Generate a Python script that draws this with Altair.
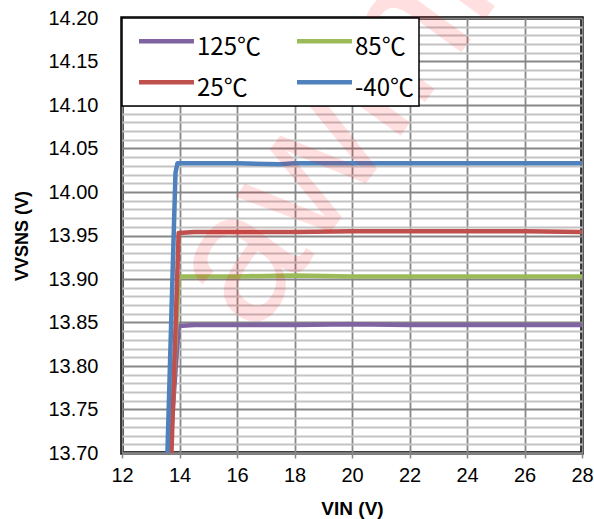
import altair as alt
import pandas as pd

temps = ["125℃", "85℃", "25℃", "-40℃"]
colors = ["#8064A2", "#9BBB59", "#C0504D", "#4F81BD"]
widths = [4.5, 4.5, 4.5, 6]

vin_125 = [13.66, 13.97, 14.5, 16, 18, 20, 22, 24, 26, 28]
vs_125 = [13.70, 13.846, 13.847, 13.847, 13.847, 13.848, 13.847, 13.847, 13.847, 13.847]

vin_85 = [13.68, 13.97, 14.5, 16, 18, 20, 22, 24, 26, 28]
vs_85 = [13.70, 13.903, 13.903, 13.903, 13.904, 13.903, 13.903, 13.903, 13.903, 13.903]

vin_25 = [13.72, 13.97, 14.5, 16, 18, 20, 22, 24, 26, 28]
vs_25 = [13.70, 13.953, 13.954, 13.954, 13.954, 13.955, 13.955, 13.955, 13.955, 13.954]

vin_m40 = [13.58, 13.86, 13.93, 14.5, 16, 17.5, 18, 20, 22, 24, 26, 28]
vs_m40 = [13.70, 14.022, 14.033, 14.033, 14.033, 14.032, 14.033, 14.033, 14.033, 14.033, 14.033, 14.033]

x_ticks = [12, 14, 16, 18, 20, 22, 24, 26, 28]
y_ticks = [round(13.70 + 0.01 * i, 2) for i in range(51)]

wm_x = [20.28]
wm_y = [14.11]
wm_text = ["awinic"]

rows = []
for t, xs, ys in [(temps[0], vin_125, vs_125), (temps[1], vin_85, vs_85),
                  (temps[2], vin_25, vs_25), (temps[3], vin_m40, vs_m40)]:
    for i, (a, b) in enumerate(zip(xs, ys)):
        rows.append({"temp": t, "vin": a, "vs": b, "i": i})
df = pd.DataFrame(rows)
wm = pd.DataFrame({"x": wm_x, "y": wm_y, "t": wm_text})

xscale = alt.Scale(domain=[12, 28], nice=False, zero=False)
yscale = alt.Scale(domain=[13.70, 14.20], nice=False, zero=False)

major = "abs(round(datum.value*100) % 5) == 0"

lines = alt.Chart(df).mark_line(clip=True, strokeCap="round", strokeJoin="round").encode(
    x=alt.X("vin:Q", scale=xscale, axis=alt.Axis(
        values=x_ticks, title="VIN (V)", labelFont="Liberation Sans", labelFontSize=20,
        labelColor="black", labelPadding=7, labelFlush=False, tickSize=5,
        tickColor="#868686", tickWidth=1.5, domainColor="#868686", domainWidth=2.5,
        gridColor="#878787", gridWidth=1.8, titleFont="Liberation Sans", titleFontSize=19,
        titleFontWeight="bold", titleColor="black", titleY=61, titleBaseline="alphabetic")),
    y=alt.Y("vs:Q", scale=yscale, axis=alt.Axis(
        values=y_ticks, labelExpr=major + " ? format(datum.value, '.2f') : ''",
        labelOverlap=False, labelFlush=False, labelFont="Liberation Sans", labelFontSize=20,
        labelColor="black", labelPadding=24, ticks=False, tickSize=0, domain=False,
        gridColor={"condition": {"test": major, "value": "#878787"}, "value": "#c3c3c3"},
        gridWidth=1.8, title="VVSNS (V)", titleFont="Liberation Sans", titleFontSize=18,
        titleFontWeight="bold", titleColor="black", titleX=-100, titleY=217.5,
        titleAngle=270, titleBaseline="middle", titleAlign="center")),
    color=alt.Color("temp:N", scale=alt.Scale(domain=temps, range=colors), legend=alt.Legend(
        title=" ", titleFontSize=6, titlePadding=7, orient="none", legendX=0, legendY=0,
        columns=2, direction="horizontal",
        symbolType="M0,-1L8,-1", symbolSize=189, symbolStrokeWidth=5,
        labelFont="Noto Sans CJK SC", labelFontSize=24, labelColor="black", labelBaseline="middle",
        labelOffset=46, fillColor="white", strokeColor="black",
        padding=5, rowPadding=13, columnPadding=24)),
    strokeWidth=alt.StrokeWidth("temp:N", scale=alt.Scale(domain=temps, range=widths), legend=None),
    detail="temp:N",
    order="i:Q",
)

water = alt.Chart(wm).mark_text(angle=306, fontSize=185, font="Liberation Sans",
                                color="#ff0000", opacity=0.12, align="center", baseline="middle").encode(
    x=alt.X("x:Q", scale=xscale, axis=None), y=alt.Y("y:Q", scale=yscale, axis=None), text="t:N")

chart = alt.layer(lines, water).resolve_axis(x="independent", y="independent").properties(
    width=460, height=435,
    autosize=alt.AutoSizeParams(type="none"),
    padding={"left": 122, "top": 18, "right": 12, "bottom": 66},
).configure_view(stroke="black", strokeWidth=3.5).configure_legend(strokeWidth=1.5)

chart.save("out.html", embed_options={"renderer": "svg", "actions": False})
